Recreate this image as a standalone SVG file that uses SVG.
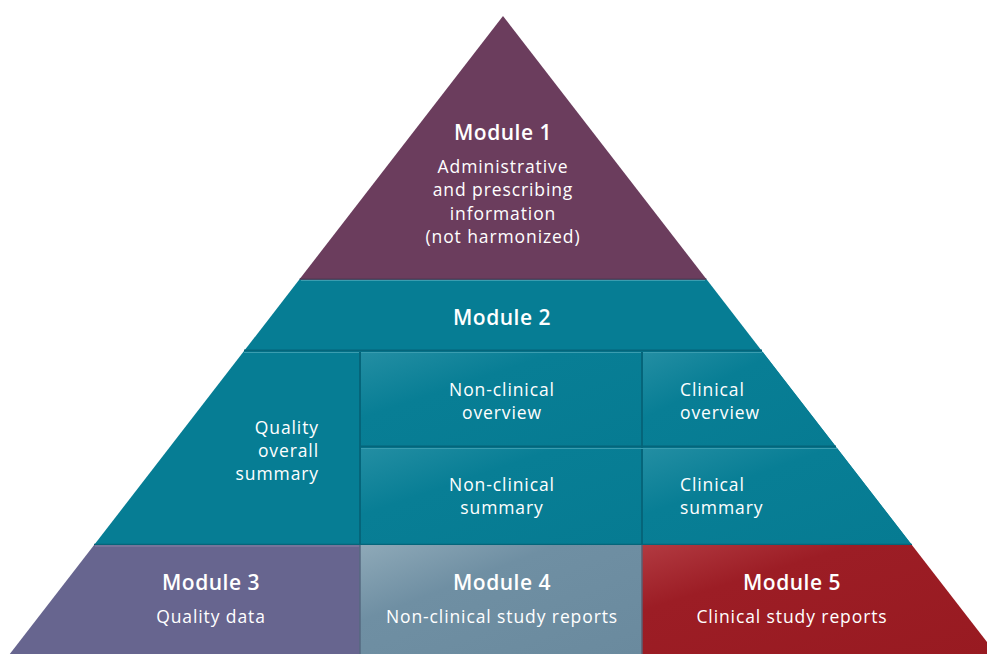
<svg xmlns="http://www.w3.org/2000/svg" width="987" height="654" viewBox="0 0 987 654">
<defs>
<linearGradient id="gCell" x1="0" y1="0" x2="1" y2="1">
<stop offset="0" stop-color="#238ea3"/>
<stop offset="0.35" stop-color="#087e95"/>
<stop offset="1" stop-color="#067b92"/>
</linearGradient>
<linearGradient id="gM4" x1="0" y1="0" x2="1" y2="1">
<stop offset="0" stop-color="#8ea9b8"/>
<stop offset="0.35" stop-color="#6f8fa3"/>
<stop offset="1" stop-color="#6a8a9e"/>
</linearGradient>
<linearGradient id="gM5" x1="0" y1="0" x2="1" y2="1">
<stop offset="0" stop-color="#b23a41"/>
<stop offset="0.3" stop-color="#9c1d25"/>
<stop offset="1" stop-color="#981a21"/>
</linearGradient>
<style>
.t{font-family:"Open Sans","Liberation Sans",sans-serif;fill:#ffffff;text-anchor:middle}
.h{font-size:21px;font-weight:600;letter-spacing:0.5px}
.b{font-size:17.5px;letter-spacing:0.9px}
.teal{fill:#067d94}
.dk{stroke:#05657a;stroke-width:2;fill:none}
.lt{stroke:#3a9db0;stroke-width:1;fill:none}
</style>
</defs>
<rect width="987" height="654" fill="#ffffff"/>

<g id="module1">
<polygon points="503,16 706.3,279 299.7,279" fill="#6b3d5d"/>
<text class="t h" x="503" y="140">Module 1</text>
<text class="t b" x="503" y="173">Administrative</text>
<text class="t b" x="503" y="196">and prescribing</text>
<text class="t b" x="503" y="220">information</text>
<text class="t b" x="503" y="243">(not harmonized)</text>
</g>

<g id="module2">
<polygon class="teal" points="299.7,279 706.3,279 911.9,545 94.1,545"/>
<line x1="299.7" y1="279" x2="706.3" y2="279" stroke="#5a3a55" stroke-width="1.5"/>
<line x1="301" y1="280.5" x2="705" y2="280.5" class="lt"/>
<text class="t h" x="502" y="325">Module 2</text>
</g>

<g id="qos">
<text class="t b" x="319" y="434" style="text-anchor:end">Quality</text>
<text class="t b" x="319" y="457" style="text-anchor:end">overall</text>
<text class="t b" x="319" y="480" style="text-anchor:end">summary</text>
</g>

<g id="nonclinical-overview">
<rect x="361" y="352" width="281" height="94" fill="url(#gCell)"/>
<text class="t b" x="502" y="396">Non-clinical</text>
<text class="t b" x="502" y="419">overview</text>
</g>

<g id="clinical-overview">
<polygon points="643,352 762.7,352 836.2,447 643,447" fill="url(#gCell)"/>
<text class="t b" x="680" y="396" style="text-anchor:start">Clinical</text>
<text class="t b" x="680" y="419" style="text-anchor:start">overview</text>
</g>

<g id="nonclinical-summary">
<rect x="361" y="448" width="281" height="96" fill="url(#gCell)"/>
<text class="t b" x="502" y="491">Non-clinical</text>
<text class="t b" x="502" y="514">summary</text>
</g>

<g id="clinical-summary">
<polygon points="643,448 837,448 911.2,544 643,544" fill="url(#gCell)"/>
<text class="t b" x="680" y="491" style="text-anchor:start">Clinical</text>
<text class="t b" x="680" y="514" style="text-anchor:start">summary</text>
</g>

<g id="dividers">
<line x1="244" y1="350.5" x2="762" y2="350.5" class="dk"/>
<line x1="244" y1="352.5" x2="762" y2="352.5" class="lt"/>
<line x1="360" y1="352" x2="360" y2="545" class="dk"/>
<line x1="642" y1="352" x2="642" y2="545" class="dk"/>
<line x1="361" y1="446.5" x2="836" y2="446.5" class="dk"/>
<line x1="361" y1="448.5" x2="837" y2="448.5" class="lt"/>
<line x1="94" y1="544.5" x2="912" y2="544.5" stroke="#05657a" stroke-width="1.5"/>
</g>

<g id="module3">
<polygon points="94.1,545 360,545 360,654 9.8,654" fill="#67658f"/>
<line x1="95" y1="546" x2="359" y2="546" stroke="#8584a6" stroke-width="1"/>
<text class="t h" x="211" y="590">Module 3</text>
<text class="t b" x="211" y="623">Quality data</text>
</g>

<g id="module4">
<rect x="360" y="545" width="282" height="109" fill="url(#gM4)"/>
<line x1="360" y1="545" x2="360" y2="654" stroke="#55697f" stroke-width="1.5"/>
<text class="t h" x="502" y="590">Module 4</text>
<text class="t b" x="502" y="623">Non-clinical study reports</text>
</g>

<g id="module5">
<polygon points="642,545 911.9,545 996.2,654 642,654" fill="url(#gM5)"/>
<line x1="642" y1="545" x2="642" y2="654" stroke="#5b5f72" stroke-width="1.5"/>
<text class="t h" x="792" y="590">Module 5</text>
<text class="t b" x="792" y="623">Clinical study reports</text>
</g>
</svg>
